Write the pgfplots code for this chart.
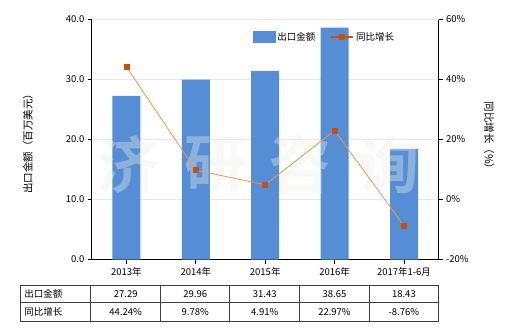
\documentclass[border=0pt]{standalone}
\usepackage{pgfplots}
\pgfplotsset{compat=1.18}
\usepackage{fontspec}
\setmainfont{Noto Sans CJK SC}
\newfontfamily\wmfont{Noto Sans CJK SC}[BoldFont={* Bold}]
\definecolor{barblue}{RGB}{85,142,213}
\definecolor{linec}{RGB}{240,150,74}
\definecolor{markc}{RGB}{197,80,20}
\definecolor{tabc}{RGB}{64,64,64}
\definecolor{wmc}{RGB}{232,238,232}
\begin{document}
\begin{tikzpicture}[x=1bp,y=1bp]
\fontsize{9.5bp}{11bp}\selectfont
\path[use as bounding box] (0,0) rectangle (520,330);
\begin{axis}[
  at={(91.7bp,70.5bp)}, anchor=south west, scale only axis,
  width=347bp, height=240bp,
  xmin=-0.5, xmax=4.5, ymin=0, ymax=40,
  ytick={0,10,20,30,40},
  xtick={0,1,2,3,4},
  xticklabels={2013年,2014年,2015年,2016年,2017年1-6月},
  axis y line*=left, axis x line*=bottom,
  axis line style={black, line width=0.8bp},
  tick style={black, line width=0.8bp},
  tick align=outside, major tick length=4bp,
  ymajorgrids, grid style={color=gray!18, line width=0.6bp},
  /pgf/number format/assume math mode=true,
  yticklabel style={/pgf/number format/.cd, fixed, fixed zerofill, precision=1},
  tick label style={font=\fontsize{9.5bp}{11bp}\selectfont, text=black},
  xticklabel style={yshift=-1bp},
  ybar, bar width=28bp,
]
\addplot[fill=barblue, draw=none, bar shift=0pt] coordinates {(0,27.29) (1,29.96) (2,31.43) (3,38.65) (4,18.43)};
\end{axis}
% watermark
\begin{scope}[opacity=0.38]
\node[text=wmc, font=\wmfont\bfseries\fontsize{62bp}{62bp}\selectfont] at (128,165) {济};
\node[text=wmc, font=\wmfont\bfseries\fontsize{62bp}{62bp}\selectfont] at (215,165) {研};
\node[text=wmc, font=\wmfont\bfseries\fontsize{62bp}{62bp}\selectfont] at (300,165) {咨};
\node[text=wmc, font=\wmfont\bfseries\fontsize{62bp}{62bp}\selectfont] at (388,165) {询};
\end{scope}
\begin{axis}[
  at={(91.7bp,70.5bp)}, anchor=south west, scale only axis,
  width=347bp, height=240bp,
  xmin=-0.5, xmax=4.5, ymin=-20, ymax=60,
  ytick={-20,0,20,40,60},
  axis y line*=right, axis x line=none,
  axis line style={black, line width=0.8bp},
  tick style={black, line width=0.8bp},
  tick align=outside, major tick length=4bp,
  /pgf/number format/assume math mode=true,
  yticklabel={\pgfmathprintnumber{\tick}\%},
  tick label style={font=\fontsize{9.5bp}{11bp}\selectfont, text=black},
  legend style={at={(rel axis cs:0.463,0.927)}, anchor=west, draw=none, fill=none,
    font=\fontsize{9.5bp}{11bp}\selectfont, inner sep=0pt,
    nodes={inner sep=2.5bp},
    /tikz/every even column/.append style={column sep=12bp}},
  legend columns=2, legend cell align=left,
]
\addlegendimage{legend image code/.code={\fill[barblue] (0bp,-5.5bp) rectangle (22bp,5.5bp);}}
\addlegendentry{出口金额}
\addplot[color=linec, line width=0.8bp, mark=square*, mark size=2.5bp,
  mark options={fill=markc, draw=markc},
  legend image code/.code={\draw[markc, line width=1.6bp] (0bp,0bp) -- (22bp,0bp); \fill[markc] (8.5bp,-2.5bp) rectangle (13.5bp,2.5bp);}]
  coordinates {(0,44.24) (1,9.78) (2,4.91) (3,22.97) (4,-8.76)};
\addlegendentry{同比增长}
\end{axis}
% axis titles
\node[rotate=90, font=\fontsize{10.5bp}{12bp}\selectfont] at (28,189) {出口金额（百万美元）};
\node[rotate=-90, font=\fontsize{10.5bp}{12bp}\selectfont] at (489,192) {同比增长（\%）};
% data table
\draw[tabc, line width=0.8bp] (20.7,45) rectangle (438.5,9);
\draw[tabc, line width=0.8bp] (20.7,28) -- (438.5,28);
\foreach \xx in {90.7,160.7,229.7,299.7,369.3} {\draw[tabc, line width=0.8bp] (\xx,45) -- (\xx,9);}
\node[anchor=west] at (21,36.5) {出口金额};
\node[anchor=west] at (21,18.5) {同比增长};
\foreach \xx/\v in {125.7/27.29,195.2/29.96,264.7/31.43,334.5/38.65,403.9/18.43} {\node at (\xx,36) {\v};}
\foreach \xx/\v in {125.7/44.24\%,195.2/9.78\%,264.7/4.91\%,334.5/22.97\%,403.9/-8.76\%} {\node at (\xx,18) {\v};}
\end{tikzpicture}
\end{document}
